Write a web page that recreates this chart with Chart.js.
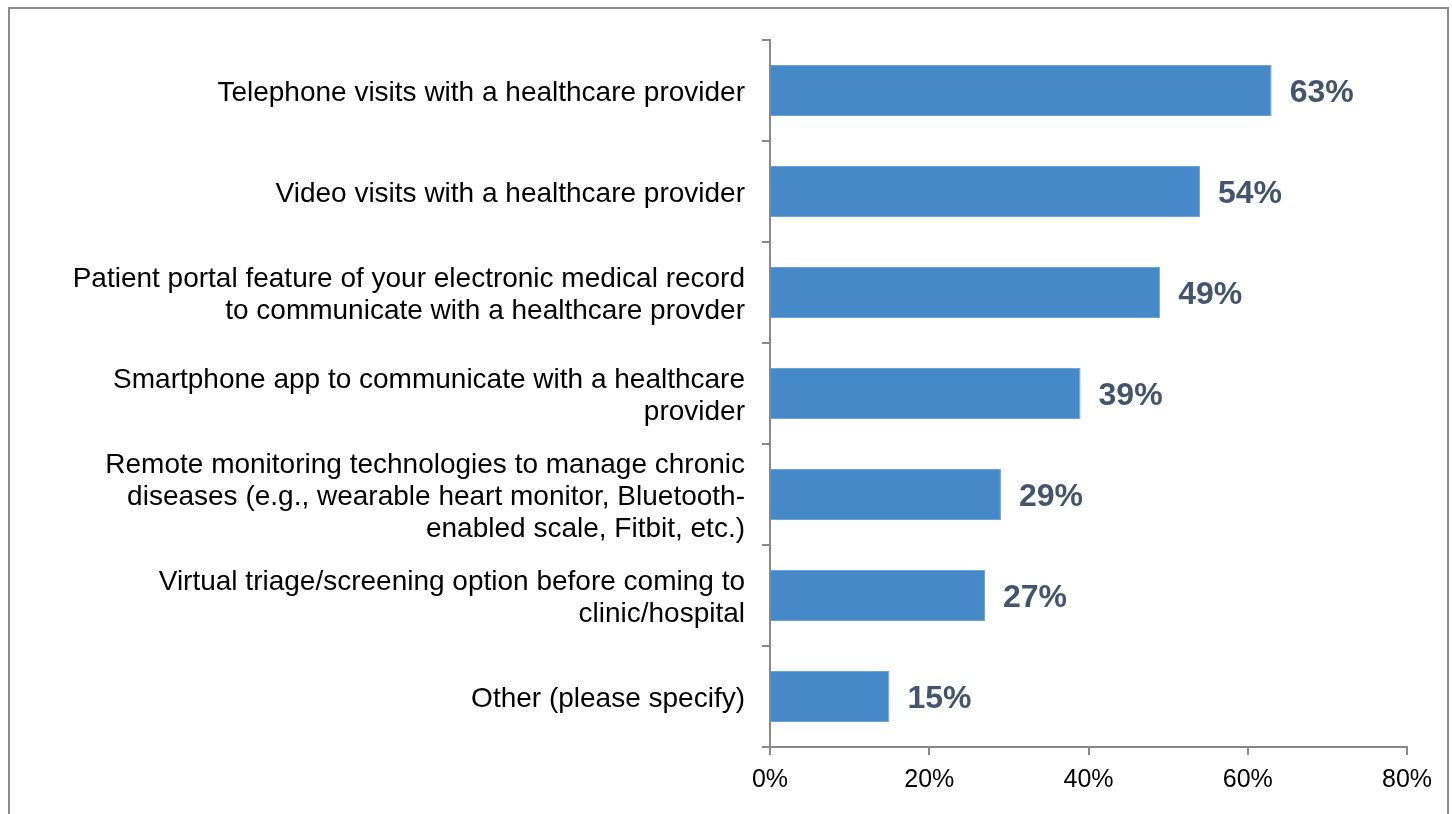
<!DOCTYPE html>
<html>
<head>
<meta charset="utf-8">
<title>Virtual care options</title>
<script src="https://cdn.jsdelivr.net/npm/chart.js@4/dist/chart.umd.min.js"></script>
<style>
  html, body { margin: 0; padding: 0; background: #fff; }
  #wrap { position: relative; width: 1452px; height: 814px; }
</style>
</head>
<body>
<div id="wrap"><canvas id="chart"></canvas></div>
<script>
// Категории (многострочные подписи) и доли ответов
const categories = [
  ['Telephone visits with a healthcare provider'],
  ['Video visits with a healthcare provider'],
  ['Patient portal feature of your electronic medical record', 'to communicate with a healthcare provder'],
  ['Smartphone app to communicate with a healthcare', 'provider'],
  ['Remote monitoring technologies to manage chronic', 'diseases (e.g., wearable heart monitor, Bluetooth-', 'enabled scale, Fitbit, etc.)'],
  ['Virtual triage/screening option before coming to', 'clinic/hospital'],
  ['Other (please specify)']
];
const values = [63, 54, 49, 39, 29, 27, 15];
const xTickValues = [0, 20, 40, 60, 80];

const FONT = '"Liberation Sans", Arial, sans-serif';
const AXIS_GRAY = '#898989';

// Рамка вокруг всего графика
const framePlugin = {
  id: 'frame',
  beforeDraw(chart) {
    const ctx = chart.ctx;
    ctx.save();
    ctx.strokeStyle = '#8c8c8c';
    ctx.lineWidth = 2;
    ctx.strokeRect(9, 8, 1439, 900);
    ctx.restore();
  }
};

// Подписи значений справа от столбцов
const valueLabels = {
  id: 'valueLabels',
  afterDatasetsDraw(chart) {
    const ctx = chart.ctx;
    const meta = chart.getDatasetMeta(0);
    ctx.save();
    ctx.font = 'bold 32px ' + FONT;
    ctx.fillStyle = '#44546a';
    ctx.textAlign = 'left';
    ctx.textBaseline = 'middle';
    meta.data.forEach((bar, i) => {
      ctx.fillText(values[i] + '%', bar.x + 18, bar.y + 3);
    });
    ctx.restore();
  }
};

new Chart(document.getElementById('chart'), {
  type: 'bar',
  data: {
    labels: categories,
    datasets: [{
      data: values,
      backgroundColor: '#4689c8',
      borderColor: '#6da3d6',
      borderWidth: 1,
      borderSkipped: 'left',
      barPercentage: 0.505,
      categoryPercentage: 1
    }]
  },
  options: {
    indexAxis: 'y',
    responsive: true,
    maintainAspectRatio: false,
    animation: false,
    layout: { padding: { top: 40, right: 45, left: 0, bottom: 0 } },
    plugins: {
      legend: { display: false },
      tooltip: { enabled: false }
    },
    scales: {
      x: {
        min: 0,
        max: 80,
        afterBuildTicks(scale) {
          scale.ticks = xTickValues.map(v => ({ value: v }));
        },
        afterFit(scale) { scale.height = 67; },
        ticks: {
          callback: v => v + '%',
          color: '#000',
          font: { family: FONT, size: 25 },
          padding: 10,
          maxRotation: 0
        },
        grid: {
          drawOnChartArea: false,
          drawTicks: true,
          tickLength: 8,
          color: AXIS_GRAY,
          lineWidth: 2
        },
        border: { display: true, color: AXIS_GRAY, width: 2 }
      },
      y: {
        afterFit(scale) { scale.width = 770; },
        ticks: {
          color: '#000',
          font: { family: FONT, size: 28, lineHeight: 1.14 },
          padding: 17,
          labelOffset: 3
        },
        grid: {
          offset: true,
          drawOnChartArea: false,
          drawTicks: true,
          tickLength: 8,
          color: AXIS_GRAY,
          lineWidth: 2
        },
        border: { display: true, color: AXIS_GRAY, width: 2 }
      }
    }
  },
  plugins: [framePlugin, valueLabels]
});
</script>
</body>
</html>
